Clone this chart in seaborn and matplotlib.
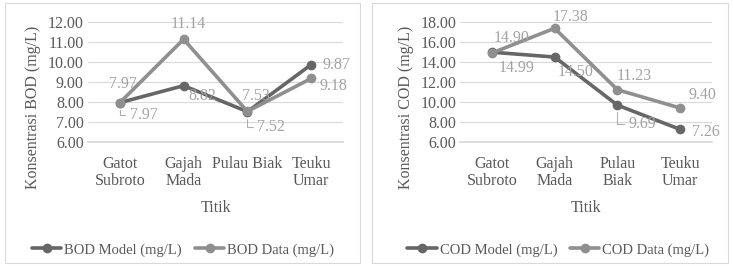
import numpy as np
import pandas as pd
import matplotlib
matplotlib.use("Agg")
import matplotlib.pyplot as plt
from matplotlib.patches import Rectangle
import seaborn as sns

titik_bod = ["Gatot\nSubroto", "Gajah\nMada", "Pulau Biak", "Teuku\nUmar"]
titik_cod = ["Gatot\nSubroto", "Gajah\nMada", "Pulau\nBiak", "Teuku\nUmar"]

bod_model = [7.97, 8.82, 7.52, 9.87]
bod_data = [7.97, 11.14, 7.53, 9.18]
cod_model = [14.99, 14.50, 9.69, 7.26]
cod_data = [14.90, 17.38, 11.23, 9.40]

sns.set_theme(style="white")
plt.rcParams['font.family'] = ['Liberation Serif', 'DejaVu Serif']

c_model = "#666666"
c_data = "#8f8f8f"
c_lab = "#a3a3a3"
c_txt = "#595959"
fs = 11.5

fig = plt.figure(figsize=(7.33, 2.66), dpi=100)

# bingkai tiap panel
for x0, w in [(0.007, 0.484), (0.508, 0.485)]:
    fig.patches.append(Rectangle((x0, 0.012), w, 0.976, transform=fig.transFigure,
                                 fill=False, edgecolor="#d9d9d9", linewidth=0.8))

ax1 = fig.add_axes([0.120, 0.466, 0.348, 0.451])
ax2 = fig.add_axes([0.628, 0.466, 0.343, 0.451])


def panel(ax, ticks, model, data, nama, ylim, yticks, offs_m, offs_d, garis, leg_x):
    x = np.arange(len(ticks))
    df = pd.DataFrame({
        "x": np.concatenate([x, x]),
        "y": model + data,
        "seri": [f"{nama} Model (mg/L)"] * len(x) + [f"{nama} Data (mg/L)"] * len(x),
    })
    sns.lineplot(data=df, x="x", y="y", hue="seri", marker="o", markersize=7,
                 palette=[c_model, c_data], linewidth=2.6, markeredgewidth=0,
                 ax=ax, legend=True)
    # data label
    for i, (xi, v, o) in enumerate(zip(x, model, offs_m)):
        kw = {}
        if i in garis:
            # label dengan garis penunjuk
            kw["arrowprops"] = dict(arrowstyle="-", color="#b0b0b0", lw=0.8,
                                    shrinkA=1, shrinkB=5, relpos=(0, 0.5),
                                    connectionstyle="angle,angleA=0,angleB=90,rad=0")
        ax.annotate(f"{v:.2f}", (xi, v), xytext=o, textcoords="offset pixels",
                    color=c_lab, fontsize=fs, ha="center", va="center", **kw)
    for xi, v, o in zip(x, data, offs_d):
        ax.annotate(f"{v:.2f}", (xi, v), xytext=o, textcoords="offset pixels",
                    color=c_lab, fontsize=fs, ha="center", va="center")
    ax.set_xlim(-0.5, len(ticks) - 0.5)
    ax.set_ylim(*ylim)
    ax.set_yticks(yticks)
    ax.set_yticklabels([f"{t:.2f}" for t in yticks], color=c_txt, fontsize=fs)
    ax.set_xticks(x)
    ax.set_xticklabels(ticks, color=c_txt, fontsize=fs, linespacing=1.1)
    ax.tick_params(axis="x", pad=10, length=0)
    ax.tick_params(axis="y", pad=3, length=0)
    ax.grid(axis="y", color="#d9d9d9", linewidth=0.8)
    ax.set_axisbelow(True)
    for s in ["top", "right", "left"]:
        ax.spines[s].set_visible(False)
    ax.spines["bottom"].set_color("#d9d9d9")
    ax.set_xlabel("Titik", color=c_txt, fontsize=fs, labelpad=8)
    ax.set_ylabel(f"Konsentrasi {nama} (mg/L)", color=c_txt, fontsize=fs)
    ax.yaxis.set_label_coords(-0.185, 0.29)
    h, l = ax.get_legend_handles_labels()
    ax.legend(h, l, loc="center", bbox_to_anchor=(leg_x, -0.9), ncol=2, frameon=False,
              fontsize=10.5, handlelength=2.0, columnspacing=0.9, handletextpad=0.2,
              labelcolor=c_txt)


panel(ax1, titik_bod, bod_model, bod_data, "BOD", (6, 12), [6, 7, 8, 9, 10, 11, 12],
      offs_m=[(24, -12), (19, -10), (24, -15), (25, 0)],
      offs_d=[(3, 19), (5, 15), (8, 15), (22, -8)],
      garis=[0, 2], leg_x=0.373)
panel(ax2, titik_cod, cod_model, cod_data, "COD", (6, 18), [6, 8, 10, 12, 14, 16, 18],
      offs_m=[(25, -16), (21, -15), (25, -19), (26, -3)],
      offs_d=[(20, 15), (16, 11), (17, 14), (22, 13)],
      garis=[2], leg_x=0.39)

fig.savefig("out.png", dpi=100)
